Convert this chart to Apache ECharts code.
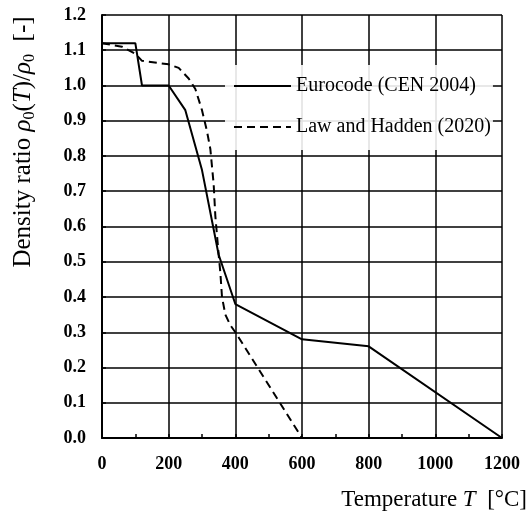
<!DOCTYPE html>
<html>
<head>
<meta charset="utf-8">
<script src="https://cdn.jsdelivr.net/npm/echarts@6/dist/echarts.min.js"></script>
<style>html,body{margin:0;padding:0;background:#fff;}#c{width:532px;height:511px;}</style>
</head>
<body>
<div id="c"></div>
<script>
var eurocodeT   = [0, 100, 120, 200, 250, 300, 350, 400, 600, 800, 1200];
var eurocodeRho = [1.12, 1.12, 1.00, 1.00, 0.93, 0.76, 0.52, 0.38, 0.28, 0.26, 0.00];
var lawT   = [0, 60, 100, 120, 200, 230, 260, 280, 300, 315, 325, 335, 340, 350, 355, 360, 370, 385, 400, 600];
var lawRho = [1.12, 1.11, 1.09, 1.07, 1.06, 1.05, 1.02, 0.99, 0.93, 0.87, 0.82, 0.72, 0.63, 0.52, 0.47, 0.40, 0.35, 0.32, 0.30, 0.00];
var seriesNames = ['Eurocode (CEN 2004)', 'Law and Hadden (2020)'];
var xTitle = '{n|Temperature }{i|T}{n|  [°C]}';
var yTitle = '{n|Density ratio }{i|ρ}{s|0}{n|(}{i|T}{n|)/}{i|ρ}{s|0}{n|  [-]}';

function pairs(a, b) { return a.map(function (v, i) { return [v, b[i]]; }); }
var serif = '"Liberation Serif", "Times New Roman", serif';
var chart = echarts.init(document.getElementById('c'));
chart.setOption({
  animation: false,
  backgroundColor: '#fff',
  grid: { left: 102, right: 30, top: 15, bottom: 73 },
  xAxis: {
    type: 'value', min: 0, max: 1200, interval: 200,
    axisLine: { lineStyle: { color: '#000', width: 2 } },
    axisTick: { inside: true, length: 4, lineStyle: { color: '#000', width: 1.5 } },
    minorTick: { show: true, splitNumber: 2, length: 4, lineStyle: { color: '#000', width: 1.5 } },
    splitLine: { show: true, lineStyle: { color: '#000', width: 1.5 } },
    axisLabel: { color: '#000', fontFamily: serif, fontWeight: 'bold', fontSize: 18, margin: 17,
      formatter: function (v) { return String(v); } }
  },
  yAxis: {
    type: 'value', min: 0, max: 1.2, interval: 0.1,
    axisLine: { show: true, lineStyle: { color: '#000', width: 2 } },
    axisTick: { show: true, inside: true, length: 4, lineStyle: { color: '#000', width: 1.5 } },
    splitLine: { show: true, lineStyle: { color: '#000', width: 1.5 } },
    axisLabel: { color: '#000', fontFamily: serif, fontWeight: 'bold', fontSize: 18, margin: 16,
      formatter: function (v) { return v.toFixed(1); } }
  },
  legend: {
    orient: 'vertical', left: 225, top: 65,
    padding: [10, 2, 12, 8],
    itemWidth: 57, itemHeight: 14, itemGap: 19,
    backgroundColor: 'rgba(255,255,255,0.88)',
    itemStyle: { opacity: 0 },
    textStyle: { color: '#000', fontFamily: serif, fontSize: 20, lineHeight: 22 },
    data: seriesNames
  },
  graphic: [
    { type: 'text', right: 5, top: 488,
      style: { text: xTitle, fill: '#000',
        rich: { n: { fontFamily: serif, fontSize: 23, fill: '#000' },
                i: { fontFamily: serif, fontSize: 23, fontStyle: 'italic', fill: '#000' } } } },
    { type: 'text', x: 23, y: 142, rotation: Math.PI / 2,
      style: { text: yTitle, fill: '#000', align: 'center', verticalAlign: 'middle',
        rich: { n: { fontFamily: serif, fontSize: 25, lineHeight: 29, fill: '#000' },
                i: { fontFamily: serif, fontSize: 25, lineHeight: 29, fontStyle: 'italic', fill: '#000' },
                s: { fontFamily: serif, fontSize: 16, lineHeight: 18, verticalAlign: 'bottom', fill: '#000' } } } }
  ],
  series: [
    { name: seriesNames[0], type: 'line', data: pairs(eurocodeT, eurocodeRho), symbol: 'none',
      lineStyle: { color: '#000', width: 2 }, itemStyle: { color: '#000' } },
    { name: seriesNames[1], type: 'line', data: pairs(lawT, lawRho), symbol: 'none',
      lineStyle: { color: '#000', width: 2, type: [8, 5] }, itemStyle: { color: '#000' } }
  ]
});
</script>
</body>
</html>
